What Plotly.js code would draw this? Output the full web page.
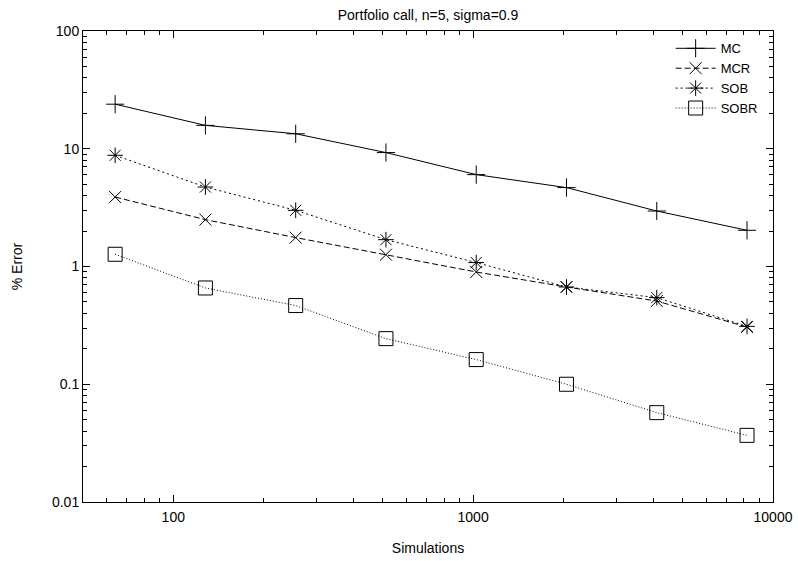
<!DOCTYPE html>
<html>
<head>
<meta charset="utf-8">
<script src="https://cdn.plot.ly/plotly-3.0.1.min.js"></script>
<style>html,body{margin:0;padding:0;background:#fff;}#chart{width:798px;height:561px;}</style>
</head>
<body>
<div id="chart"></div>
<script>
const simulations = [64, 128, 256, 512, 1024, 2048, 4096, 8192];
const errMC   = [23.9, 15.8, 13.4, 9.28, 6.03, 4.68, 2.96, 2.03];
const errMCR  = [3.89, 2.50, 1.76, 1.26, 0.898, 0.670, 0.509, 0.306];
const errSOB  = [8.80, 4.73, 3.00, 1.69, 1.08, 0.670, 0.544, 0.31];
const errSOBR = [1.27, 0.657, 0.466, 0.244, 0.162, 0.100, 0.0574, 0.0368];
const seriesNames = ["MC", "MCR", "SOB", "SOBR"];
const xTickVals = [100, 1000, 10000];
const xTickText = ["100", "1000", "10000"];
const yTickVals = [0.01, 0.1, 1, 10, 100];
const yTickText = ["0.01", "0.1", "1", "10", "100"];

const FONT = "Liberation Sans, Arial, Helvetica, sans-serif";
const FS = 14;
const styles = [
  {dash: "solid", symbol: "cross-thin-open", size: 13},
  {dash: "6px,3px", symbol: "x-thin-open", size: 12},
  {dash: "2px,3px", symbol: "asterisk-open", size: 13},
  {dash: "1px,2px", symbol: "square-open", size: 14}
];
const ys = [errMC, errMCR, errSOB, errSOBR];
const traces = ys.map((y, i) => ({
  x: simulations, y: y, name: seriesNames[i], type: "scatter", mode: "lines+markers",
  line: {color: "#000", width: 1, dash: styles[i].dash},
  marker: {symbol: styles[i].symbol, size: styles[i].size, color: "#000", line: {color: "#000", width: 1}}
}));

const axisCommon = {
  showgrid: false, zeroline: false, showline: true, linecolor: "#000", linewidth: 1,
  mirror: "allticks", ticks: "inside", ticklen: 7, tickcolor: "#000", tickwidth: 1,
  tickfont: {family: FONT, size: FS, color: "#000"},
  minor: {ticks: "inside", ticklen: 4, tickcolor: "#000", tickwidth: 1, dtick: "D1", showgrid: false}
};

const layout = {
  width: 798, height: 561,
  margin: {l: 83, r: 25, t: 31, b: 59},
  paper_bgcolor: "#fff", plot_bgcolor: "#fff",
  font: {family: FONT, size: FS, color: "#000"},
  title: {text: "Portfolio call, n=5, sigma=0.9", x: 0.5, xref: "paper", y: 0.973, yanchor: "middle", font: {family: FONT, size: FS, color: "#000"}},
  xaxis: Object.assign({}, axisCommon, {
    type: "log", range: [Math.log10(50), 4],
    tickmode: "array", tickvals: xTickVals, ticktext: xTickText, ticklabelstandoff: 2,
    title: {text: "Simulations", font: {family: FONT, size: FS, color: "#000"}, standoff: 19}
  }),
  yaxis: Object.assign({}, axisCommon, {
    type: "log", range: [-2, 2],
    tickmode: "array", tickvals: yTickVals, ticktext: yTickText,
    title: {text: "% Error", font: {family: FONT, size: FS, color: "#000"}, standoff: 26}
  }),
  legend: {x: 0.985, xanchor: "right", y: 0.995, yanchor: "top", bgcolor: "rgba(0,0,0,0)",
    font: {family: FONT, size: 13, color: "#000"}, tracegroupgap: 0, itemwidth: 40},
  showlegend: true
};

Plotly.newPlot("chart", traces, layout, {staticPlot: true, displayModeBar: false});
</script>
</body>
</html>
